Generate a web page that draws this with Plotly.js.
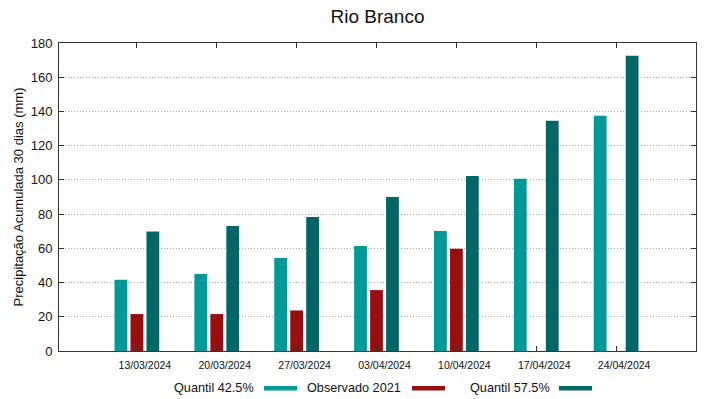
<!DOCTYPE html>
<html>
<head>
<meta charset="utf-8">
<script src="https://cdn.plot.ly/plotly-3.0.1.min.js"></script>
<style>html,body{margin:0;padding:0;background:#fff}#chart{width:719px;height:399px}</style>
</head>
<body>
<div id="chart"></div>
<script>
const categories = ["13/03/2024","20/03/2024","27/03/2024","03/04/2024","10/04/2024","17/04/2024","24/04/2024"];
const seriesNames = ["Quantil 42.5%","Observado 2021","Quantil 57.5%"];
const quantil425 = [41.7, 45.0, 54.4, 61.4, 70.2, 100.7, 137.5];
const observado2021 = [21.6, 21.6, 23.7, 35.6, 59.7, null, null];
const quantil575 = [69.9, 73.0, 78.3, 90.0, 102.3, 134.6, 172.5];
const yTicks = [0,20,40,60,80,100,120,140,160,180];

const colors = ["#009999", "#990f0f", "#006666"];
const W = 719, H = 399;
const M = {l: 59, r: 23, t: 43, b: 48};
const PW = W - M.l - M.r, PH = H - M.t - M.b;
const px = x => (x - M.l) / PW;
const py = y => (H - M.b - y) / PH;

const idx = categories.map((_, i) => i);
const seriesVals = [quantil425, observado2021, quantil575];
const barW = 0.16, step = 0.2;
const traces = seriesVals.map((vals, k) => ({
  type: 'bar', x: idx, y: vals, name: seriesNames[k],
  width: barW, offset: (k - 1) * step - barW / 2,
  marker: {color: colors[k], line: {width: 0}},
  showlegend: false
}));

const font = "Liberation Sans, Arial, sans-serif";
const legendItems = [
  {textRight: 256, sw0: 264, sw1: 297},
  {textRight: 403, sw0: 412, sw1: 445},
  {textRight: 552, sw0: 559, sw1: 592}
];
const legY = 388;
const annotations = legendItems.map((it, k) => ({
  xref: 'paper', yref: 'paper', x: px(it.textRight), y: py(legY),
  xanchor: 'right', yanchor: 'middle', showarrow: false,
  text: seriesNames[k], font: {family: font, size: 12.7, color: '#111'}
}));
const shapes = legendItems.map((it, k) => ({
  type: 'rect', xref: 'paper', yref: 'paper',
  x0: px(it.sw0), x1: px(it.sw1), y0: py(legY + 2.5), y1: py(legY - 2),
  fillcolor: colors[k], line: {width: 0}
}));

const layout = {
  width: W, height: H,
  margin: M,
  paper_bgcolor: '#fff', plot_bgcolor: '#fff',
  barmode: 'overlay',
  title: {text: 'Rio Branco', font: {family: font, size: 19, color: '#111'},
          x: 0.525, xanchor: 'center', y: 1 - 16 / H, yanchor: 'middle', xref: 'container', yref: 'container'},
  xaxis: {
    range: [-0.975, 7.0], tickmode: 'array', tickvals: idx, ticktext: categories,
    ticks: 'inside', ticklen: 5, tickcolor: '#333', mirror: 'allticks',
    showline: true, linecolor: '#333', linewidth: 1, showgrid: false, zeroline: false,
    tickfont: {family: font, size: 10.5, color: '#111'}, ticklabelshift: 8, ticklabelstandoff: 4,
    fixedrange: true
  },
  yaxis: {
    range: [0, 180], tickmode: 'array', tickvals: yTicks,
    ticks: 'inside', ticklen: 5, tickcolor: '#333', mirror: 'allticks',
    showline: true, linecolor: '#333', linewidth: 1,
    showgrid: true, gridcolor: '#b0b0b0', griddash: '1px,2px', gridwidth: 1, zeroline: false,
    tickfont: {family: font, size: 13, color: '#111'}, ticklabelstandoff: 3,
    title: {text: 'Precipitação Acumulada 30 dias (mm)', font: {family: font, size: 13, color: '#111'}},
    fixedrange: true
  },
  annotations, shapes
};
Plotly.newPlot('chart', traces, layout, {displayModeBar: false, staticPlot: true});
</script>
</body>
</html>
